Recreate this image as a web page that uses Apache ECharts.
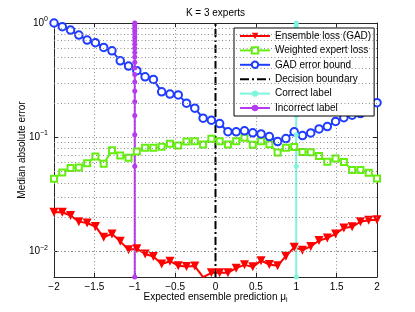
<!DOCTYPE html>
<html><head><meta charset="utf-8">
<script src="https://cdn.jsdelivr.net/npm/echarts@6/dist/echarts.min.js"></script>
<style>html,body{margin:0;padding:0;background:#fff}#c{width:415px;height:312px}</style>
</head><body><div id="c"></div>
<script>
// Expected ensemble prediction (x positions of the three curves)
const xValues = [-2, -1.8974, -1.7949, -1.6923, -1.5897, -1.4872, -1.3846, -1.2821, -1.1795, -1.0769,
  -0.9744, -0.8718, -0.7692, -0.6667, -0.5641, -0.4615, -0.3590, -0.2564, -0.1538, -0.0513,
  0.0513, 0.1538, 0.2564, 0.3590, 0.4615, 0.5641, 0.6667, 0.7692, 0.8718, 0.9744,
  1.0769, 1.1795, 1.2821, 1.3846, 1.4872, 1.5897, 1.6923, 1.7949, 1.8974, 2];
const ensembleLoss = [0.0221, 0.0221, 0.0207, 0.0183, 0.0178, 0.0166, 0.01335, 0.0143, 0.0123, 0.01037,
  0.01062, 0.00954, 0.00908, 0.0078, 0.00825, 0.00754, 0.00742, 0.00748, 0.00598, 0.00652,
  0.00655, 0.00655, 0.00717, 0.00766, 0.00736, 0.00834, 0.00772, 0.00754, 0.00913, 0.0109,
  0.0103, 0.0111, 0.0125, 0.01313, 0.0143, 0.0161, 0.0165, 0.01826, 0.0188, 0.0190];
const weightedExpertLoss = [0.0434, 0.0493, 0.054, 0.0545, 0.0594, 0.0681, 0.0588, 0.0769, 0.0695, 0.0661,
  0.0750, 0.0809, 0.0812, 0.0825, 0.0877, 0.0848, 0.0919, 0.0923, 0.0865, 0.0974,
  0.0926, 0.0865, 0.0926, 0.099, 0.086, 0.0926, 0.0868, 0.0736, 0.0809, 0.0822,
  0.0743, 0.0739, 0.0688, 0.0612, 0.0654, 0.0607, 0.0519, 0.0519, 0.0491, 0.0437];
const gadErrorBound = [1.0, 0.928, 0.868, 0.785, 0.709, 0.672, 0.612, 0.571, 0.467, 0.420,
  0.383, 0.338, 0.321, 0.250, 0.239, 0.235, 0.199, 0.180, 0.147, 0.141,
  0.132, 0.112, 0.1117, 0.114, 0.1095, 0.1071, 0.1016, 0.0917, 0.0976, 0.1117,
  0.1035, 0.1093, 0.1185, 0.1241, 0.1376, 0.1483, 0.156, 0.1614, 0.1786, 0.2008];
// vertical reference lines
const decisionX = 0;
const correctX = 1;
const incorrectX = -1;
const labelLineY = [0.006, 0.0557, 0.1054, 0.1551, 0.2048, 0.2545, 0.3042, 0.3539, 0.4036, 0.4533, 0.503,
  0.5527, 0.6024, 0.6521, 0.7018, 0.7515, 0.8012, 0.8509, 0.9006, 0.9503, 1.0];
const boundaryY = [0.006, 1.0];
// axes
const xMin = -2, xMax = 2, xStep = 0.5;
const yMin = 0.006, yMax = 1;
const yMinorGrid = [0.007, 0.008, 0.009, 0.02, 0.03, 0.04, 0.05, 0.06, 0.07, 0.08, 0.09,
  0.2, 0.3, 0.4, 0.5, 0.6, 0.7, 0.8, 0.9];

const FONT = 'Liberation Sans';
const zip = (xs, ys) => xs.map((x, i) => [x, ys[i]]);
const vline = (x, ys) => ys.map(y => [x, y]);
const grid = {type: [1, 2.5], color: '#8c8c8c', width: 1};
const axisLineStyle = {color: '#262626', width: 1};
const dashDotIcon = 'path://M0,0h9v2h-9z M12,0h2v2h-2z M17,0h9v2h-9z M29,0h1v2h-1z';

const chart = echarts.init(document.getElementById('c'), null, {renderer: 'canvas'});
chart.setOption({
  animation: false,
  backgroundColor: '#fff',
  textStyle: {fontFamily: FONT},
  grid: {left: 54, right: 38, top: 23, bottom: 35, containLabel: false},
  xAxis: [{
    type: 'value', min: xMin, max: xMax, interval: xStep, position: 'bottom',
    axisLine: {show: true, onZero: false, lineStyle: axisLineStyle},
    axisTick: {show: true, inside: true, length: 4, lineStyle: axisLineStyle},
    axisLabel: {fontFamily: FONT, fontSize: 10, color: '#000', margin: 5,
      formatter: v => String(v).replace('-', '\u2212')},
    splitLine: {show: true, lineStyle: grid},
    name: 'Expected ensemble prediction \u03bc{sub|i}', nameLocation: 'middle', nameGap: 14,
    nameMoveOverlap: false,
    nameTextStyle: {fontFamily: FONT, fontSize: 10, color: '#000',
      rich: {sub: {fontSize: 7, fontFamily: FONT, padding: [6, 0, 0, 0]}}}
  }, {
    type: 'value', min: xMin, max: xMax, interval: xStep, position: 'top',
    axisLine: {show: true, onZero: false, lineStyle: axisLineStyle},
    axisTick: {show: true, inside: true, length: 4, lineStyle: axisLineStyle},
    axisLabel: {show: false}, splitLine: {show: false},
    name: 'K = 3 experts', nameLocation: 'middle', nameGap: 5, nameMoveOverlap: false,
    nameTextStyle: {fontFamily: FONT, fontSize: 10, color: '#000'}
  }],
  yAxis: [{
    type: 'log', logBase: 10, min: yMin, max: yMax, position: 'left',
    axisLine: {show: true, onZero: false, lineStyle: axisLineStyle},
    axisTick: {show: true, inside: true, length: 4, lineStyle: axisLineStyle},
    axisLabel: {fontFamily: FONT, fontSize: 10, color: '#000', margin: 6,
      formatter: v => {
        const e = Math.log10(v);
        if (Math.abs(e - Math.round(e)) > 1e-6) return '';
        const k = Math.round(e);
        return '10{sup|' + String(k).replace('-', '\u2212') + '}';
      },
      rich: {sup: {fontSize: 7, fontFamily: FONT, padding: [0, 0, 8, 0]}}},
    splitLine: {show: true, lineStyle: grid},
    name: 'Median absolute error', nameLocation: 'middle', nameGap: 27, nameRotate: 90,
    nameMoveOverlap: false,
    nameTextStyle: {fontFamily: FONT, fontSize: 10, color: '#000'}
  }, {
    type: 'log', logBase: 10, min: yMin, max: yMax, position: 'right',
    axisLine: {show: true, onZero: false, lineStyle: axisLineStyle},
    axisTick: {show: true, inside: true, length: 4, lineStyle: axisLineStyle},
    axisLabel: {show: false}, splitLine: {show: false}
  }],
  legend: {
    data: ['Ensemble loss (GAD)', 'Weighted expert loss', 'GAD error bound',
      {name: 'Decision boundary', icon: dashDotIcon}, 'Correct label', 'Incorrect label'],
    orient: 'vertical', left: 234, top: 28,
    itemWidth: 30, itemHeight: 8, itemGap: 4.4,
    padding: [3, 3, 3, 5],
    borderColor: '#000', borderWidth: 1, backgroundColor: '#fff',
    textStyle: {fontFamily: FONT, fontSize: 10, color: '#000', width: 92, overflow: 'none'},
    selectedMode: false
  },
  series: [
    {
      name: '_minorgrid', type: 'line', data: [], silent: true, z: 1,
      markLine: {silent: true, symbol: 'none', label: {show: false},
        lineStyle: grid, emphasis: {disabled: true},
        data: yMinorGrid.map(v => ({yAxis: v}))}
    },
    {
      name: 'Ensemble loss (GAD)', type: 'line', data: zip(xValues, ensembleLoss),
      symbol: 'triangle', symbolRotate: 180, symbolSize: 9, showAllSymbol: true,
      itemStyle: {color: '#ff0000'}, lineStyle: {color: '#ff0000', width: 2}
    },
    {
      name: 'Weighted expert loss', type: 'line', data: zip(xValues, weightedExpertLoss),
      symbol: 'emptyRect', symbolSize: 6, showAllSymbol: true,
      itemStyle: {color: '#66ee11', borderWidth: 1.6}, lineStyle: {color: '#66ee11', width: 2}
    },
    {
      name: 'GAD error bound', type: 'line', data: zip(xValues, gadErrorBound),
      symbol: 'emptyCircle', symbolSize: 7.5, showAllSymbol: true,
      itemStyle: {color: '#1f3cff', borderWidth: 2}, lineStyle: {color: '#1f3cff', width: 2}
    },
    {
      name: 'Decision boundary', type: 'line', data: vline(decisionX, boundaryY),
      symbol: 'none', itemStyle: {color: '#000'},
      lineStyle: {color: '#000', width: 2, type: [8, 3, 2, 3]}
    },
    {
      name: 'Correct label', type: 'line', data: vline(correctX, labelLineY),
      symbol: 'circle', symbolSize: 5, showAllSymbol: true,
      itemStyle: {color: '#7ff5dd'}, lineStyle: {color: '#7ff5dd', width: 2}
    },
    {
      name: 'Incorrect label', type: 'line', data: vline(incorrectX, labelLineY),
      symbol: 'circle', symbolSize: 5, showAllSymbol: true,
      itemStyle: {color: '#b43cf0'}, lineStyle: {color: '#b43cf0', width: 2}
    }
  ]
});
</script></body></html>
